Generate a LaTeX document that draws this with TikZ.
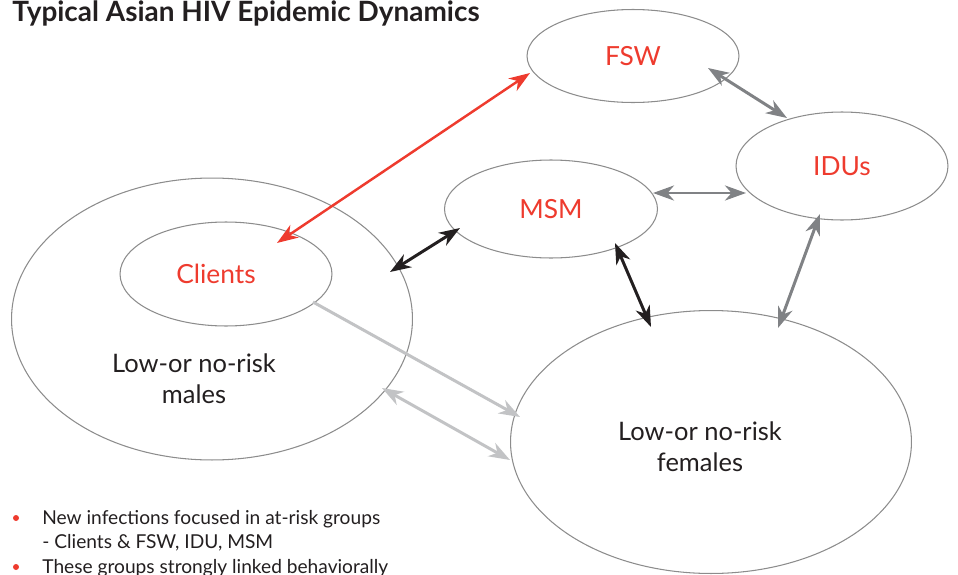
\documentclass[tikz,border=0pt]{standalone}
\usepackage{fontspec}
\setmainfont{Lato}
\usepackage{tikz}
\usetikzlibrary{shapes.geometric}
\usetikzlibrary{arrows.meta}
\usetikzlibrary{positioning}
\definecolor{epired}{HTML}{EE3B2E}
\definecolor{ringgray}{HTML}{8C8C8C}
\definecolor{linkgray}{HTML}{808285}
\definecolor{linklight}{HTML}{C2C3C5}
\definecolor{linkdark}{HTML}{231F20}
\tikzset{
% Define standard arrow tip
>={Stealth[length=0.42cm, width=0.3cm, inset=0.13cm]},
group/.style={ellipse, draw=ringgray, line width=0.6pt, inner sep=0},
risklabel/.style={text=epired, font=\fontsize{15}{18}\selectfont},
poplabel/.style={text=linkdark, align=center, font=\fontsize{14.5}{17.5}\selectfont},
noteline/.style={anchor=base west, inner sep=0, text=linkdark, font=\fontsize{10.9}{13}\selectfont},
}

\begin{document}
\begin{tikzpicture}[x=0.02cm, y=-0.02cm]
  \useasboundingbox (0,0) rectangle (958,575);

  \node[anchor=base west, inner sep=0, text=linkdark,
    font=\bfseries\fontsize{15.9}{19}\selectfont] (title) at (12,21) {Typical Asian HIV Epidemic Dynamics};

  \node[group,
    minimum width = 8.02cm,
    minimum height = 5.64cm] (males) at (212,319) {};
  \node[group,
    minimum width = 4.24cm,
    minimum height = 2.08cm] (clients) at (226,274) {};
  \node[risklabel] (clientstext) at (216,274) {Clients};
  \node[poplabel] (malestext) at (194,379) {Low-or no-risk\\males};

  \node[group,
    minimum width = 8.02cm,
    minimum height = 5.26cm] (females) at (711,442) {};
  \node[poplabel] (femalestext) at (700,447) {Low-or no-risk\\females};

  \node[group, risklabel,
    minimum width = 4.24cm,
    minimum height = 1.86cm] (FSW) at (633,56) {FSW};
  \node[group, risklabel,
    minimum width = 4.24cm,
    minimum height = 2.16cm] (IDU) at (842,166) {IDUs};
  \node[group, risklabel,
    minimum width = 4.26cm,
    minimum height = 1.96cm] (MSM) at (551,209) {MSM};

  % clients <-> sex workers
  \draw[<->, draw=epired, fill=epired, line width=1.4pt] ([shift={(-103,17)}]FSW.center) -- ([shift={(51,-31)}]clients.center);

  \draw[<->, draw=linkgray, fill=linkgray, line width=1.7pt] ([shift={(75,12)}]FSW.center) -- ([shift={(-55,-48)}]IDU.center);
  \draw[<->, draw=linkgray, fill=linkgray, line width=1.7pt] ([shift={(102,-16)}]MSM.center) -- ([shift={(-96,27)}]IDU.center);
  \draw[<->, draw=linkgray, fill=linkgray, line width=1.7pt] ([shift={(-22,48)}]IDU.center) -- ([shift={(67,-114)}]females.center);

  \draw[<->, draw=linkdark, fill=linkdark, line width=1.7pt] ([shift={(-91,19)}]MSM.center) -- ([shift={(178,-47)}]males.center);
  \draw[<->, draw=linkdark, fill=linkdark, line width=1.7pt] ([shift={(64,34)}]MSM.center) -- ([shift={(-60,-115)}]females.center);

  \draw[->, draw=linklight, fill=linklight, line width=1.7pt] ([shift={(87,28)}]clients.center) -- ([shift={(-191,-25)}]females.center);
  \draw[<->, draw=linklight, fill=linklight, line width=1.7pt] ([shift={(170,69)}]males.center) -- ([shift={(-201,18)}]females.center);

  % notes
  \node[noteline] (note1) at (42,524) {New infections focused in at-risk groups};
  \node[noteline] (note2) at (42,548) {- Clients \& FSW, IDU, MSM};
  \node[noteline] (note3) at (42,573) {These groups strongly linked behaviorally};
  \fill[epired] (16,518) circle (3);
  \fill[epired] (16,567) circle (3);
\end{tikzpicture}
\end{document}
